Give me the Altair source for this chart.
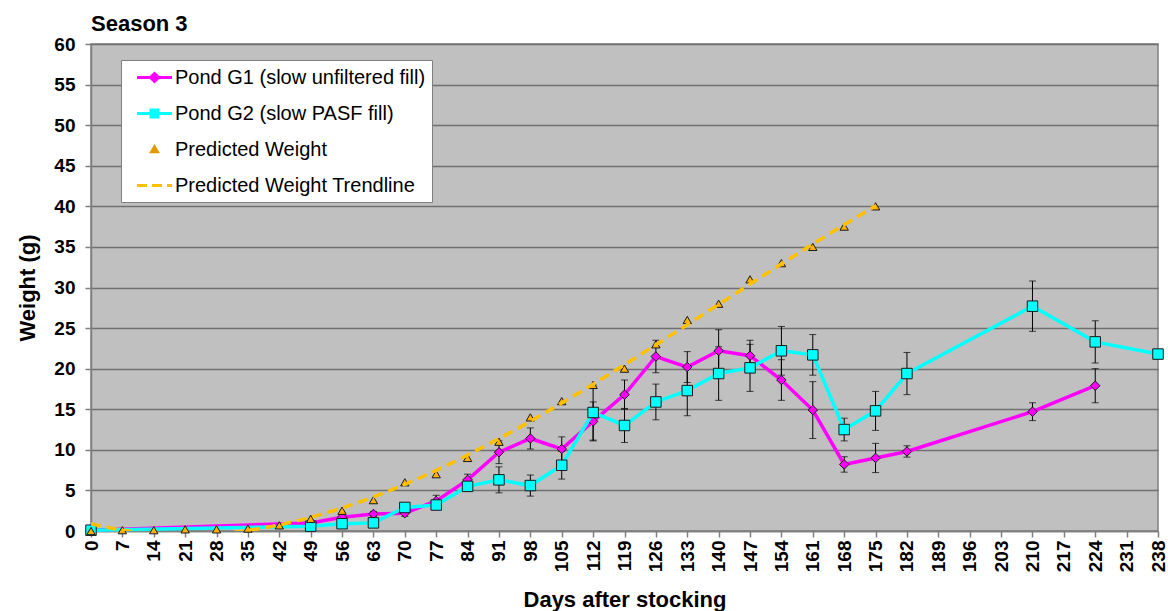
import altair as alt
import pandas as pd

# ---- axis ticks ----
day_ticks = list(range(0, 239, 7))
weight_ticks = list(range(0, 61, 5))

# ---- Pond G1 (slow unfiltered fill): mean weight and +/- error ----
g1_days = [0, 49, 56, 63, 70, 77, 84, 91, 98, 105, 112, 119, 126, 133, 140, 147,
           154, 161, 168, 175, 182, 210, 224]
g1_weight = [0.1, 1.0, 1.7, 2.1, 2.2, 3.7, 6.3, 9.7, 11.4, 10.1, 13.5, 16.8, 21.5,
             20.2, 22.2, 21.6, 18.6, 14.9, 8.2, 9.0, 9.8, 14.7, 17.9]
g1_err = [0, 0, 0.3, 0.3, 0.4, 0.7, 0.7, 1.4, 1.3, 1.5, 2.4, 1.8, 2.0, 1.9, 2.6,
          1.9, 2.5, 3.5, 0.95, 1.8, 0.7, 1.1, 2.1]

# ---- Pond G2 (slow PASF fill) ----
g2_days = [0, 49, 56, 63, 70, 77, 84, 91, 98, 105, 112, 119, 126, 133, 140, 147,
           154, 161, 168, 175, 182, 210, 224, 238]
g2_weight = [0.1, 0.6, 0.9, 1.0, 2.9, 3.2, 5.5, 6.3, 5.6, 8.1, 14.6, 13.0, 15.9,
             17.3, 19.4, 20.1, 22.2, 21.7, 12.5, 14.8, 19.4, 27.7, 23.3, 21.8]
g2_err = [0, 0, 0.2, 0.2, 0.4, 0.3, 0.6, 1.6, 1.3, 1.7, 3.4, 2.1, 2.2, 3.1, 3.3,
          2.9, 3.0, 2.5, 1.4, 2.4, 2.6, 3.1, 2.6, 0]

# ---- Predicted weight ----
pred_days = list(range(0, 176, 7))
pred_weight = [0.0, 0.1, 0.1, 0.2, 0.2, 0.3, 0.7, 1.5, 2.5, 3.8, 6.0, 7.0, 9.0,
               11.0, 14.0, 16.0, 18.0, 20.0, 23.0, 26.0, 28.0, 31.0, 33.0, 35.0,
               37.5, 40.0]

series_names = ["Pond G1 (slow unfiltered fill)", "Pond G2 (slow PASF fill)",
                "Predicted Weight", "Predicted Weight Trendline"]

MAGENTA = "#FF00FF"
CYAN = "#00FFFF"
TRI_ORANGE = "#FFB000"
TREND_ORANGE = "#FFC000"
OUTLINE = "#1a1a1a"
FONT = "Liberation Sans"

g1 = pd.DataFrame({"day": g1_days, "w": g1_weight, "err": g1_err})
g2 = pd.DataFrame({"day": g2_days, "w": g2_weight, "err": g2_err})
pred = pd.DataFrame({"day": pred_days, "w": pred_weight})
legend_df = pd.DataFrame({"series": series_names, "day": [0] * 4, "w": [0] * 4})

x_scale = alt.Scale(domain=[0, 238], nice=False, zero=False)
y_scale = alt.Scale(domain=[0, 60], nice=False)

x_axis = alt.Axis(values=day_ticks, title="Days after stocking", labelAngle=-90,
                  grid=False, tickSize=6, labelPadding=3, titlePadding=18)
y_axis = alt.Axis(values=weight_ticks, title="Weight (g)", grid=True,
                  tickSize=6, labelPadding=10, titlePadding=14)

X = alt.X("day:Q", scale=x_scale, axis=x_axis)
Y = alt.Y("w:Q", scale=y_scale, axis=y_axis)


def error_bars(df):
    base = alt.Chart(df).transform_filter("datum.err > 0").transform_calculate(
        lo="datum.w - datum.err", hi="datum.w + datum.err")
    y_lo = alt.Y("lo:Q", scale=y_scale, axis=y_axis)
    y_hi = alt.Y("hi:Q", scale=y_scale, axis=y_axis)
    rule = base.mark_rule(color="black", strokeWidth=1).encode(x=X, y=y_lo, y2="hi:Q")
    cap_lo = base.mark_tick(color="black", orient="horizontal", size=7,
                            thickness=1).encode(x=X, y=y_lo)
    cap_hi = base.mark_tick(color="black", orient="horizontal", size=7,
                            thickness=1).encode(x=X, y=y_hi)
    return rule + cap_lo + cap_hi


g1_line = alt.Chart(g1).mark_line(color=MAGENTA, strokeWidth=3.5).encode(x=X, y=Y)
g1_pts = alt.Chart(g1).mark_point(shape="diamond", filled=True, fill=MAGENTA,
                                  stroke=OUTLINE, strokeWidth=1, size=90,
                                  opacity=1).encode(x=X, y=Y)
g2_line = alt.Chart(g2).mark_line(color=CYAN, strokeWidth=3.5).encode(x=X, y=Y)
g2_pts = alt.Chart(g2).mark_point(shape="square", filled=True, fill=CYAN,
                                  stroke=OUTLINE, strokeWidth=1, size=110,
                                  opacity=1).encode(x=X, y=Y)
tri_pts = alt.Chart(pred).mark_point(shape="triangle-up", filled=True, fill=TRI_ORANGE,
                                     stroke=OUTLINE, strokeWidth=1, size=70,
                                     opacity=1).encode(x=X, y=Y)
trend = alt.Chart(pred).transform_regression(
    "day", "w", method="poly", order=3, extent=[0, 175]
).mark_line(color=TREND_ORANGE, strokeWidth=3.5, strokeDash=[10, 6], clip=True).encode(x=X, y=Y)

# legend symbols: short line segments with the marker drawn on top
legend_paths = [
    "M-0.15,0 L3.35,0 M1.6,-0.4 L2.0,0 L1.6,0.4 L1.2,0 Z",
    "M-0.15,0 L3.35,0 M1.25,-0.35 L1.95,-0.35 L1.95,0.35 L1.25,0.35 Z",
    "M1.6,-0.25 L1.88,0.22 L1.32,0.22 Z",
    "M-0.15,0 L0.85,0 M1.35,0 L2.35,0 M2.85,0 L3.35,0",
]
leg = alt.Legend(title=None, orient="none", legendX=30, legendY=16, padding=6,
                 rowPadding=14, symbolSize=400, labelOffset=25, labelFontSize=20,
                 labelFont=FONT, labelColor="black", fillColor="white",
                 strokeColor="#808080", symbolOpacity=1, labelLimit=500)
legend_layer = alt.Chart(legend_df).mark_point(opacity=0).encode(
    x=X, y=Y,
    shape=alt.Shape("series:N", scale=alt.Scale(domain=series_names, range=legend_paths), legend=leg),
    fill=alt.Fill("series:N", scale=alt.Scale(domain=series_names,
                  range=[MAGENTA, CYAN, TRI_ORANGE, TREND_ORANGE]), legend=leg),
    stroke=alt.Stroke("series:N", scale=alt.Scale(domain=series_names,
                      range=[MAGENTA, CYAN, "#E09A00", TREND_ORANGE]), legend=leg),
)

chart = alt.layer(
    error_bars(g1), error_bars(g2), g1_line, g1_pts, g2_line, g2_pts,
    tri_pts, trend, legend_layer,
).properties(
    width=1067, height=487,
    background="white",
    title=alt.Title("Season 3", anchor="start", frame="group", offset=-1,
                    fontSize=22, font=FONT, fontWeight="bold", color="black"),
    autosize=alt.AutoSizeParams(type="none"),
    padding={"left": 91, "top": 44, "right": 10, "bottom": 80},
).configure_view(
    fill="#C0C0C0", stroke="#808080", strokeWidth=1.5,
).configure_axis(
    labelFont=FONT, labelFontSize=19, labelFontWeight="bold", labelColor="black",
    titleFont=FONT, titleFontSize=22, titleFontWeight="bold", titleColor="black",
    domainColor="#808080", domainWidth=1.5, tickColor="#808080", tickWidth=1.5,
    gridColor="#707070", gridWidth=1.3, gridOpacity=1,
).configure_legend(
    symbolStrokeWidth=3,
)

chart.save("out.html", embed_options={"renderer": "svg", "actions": False})
